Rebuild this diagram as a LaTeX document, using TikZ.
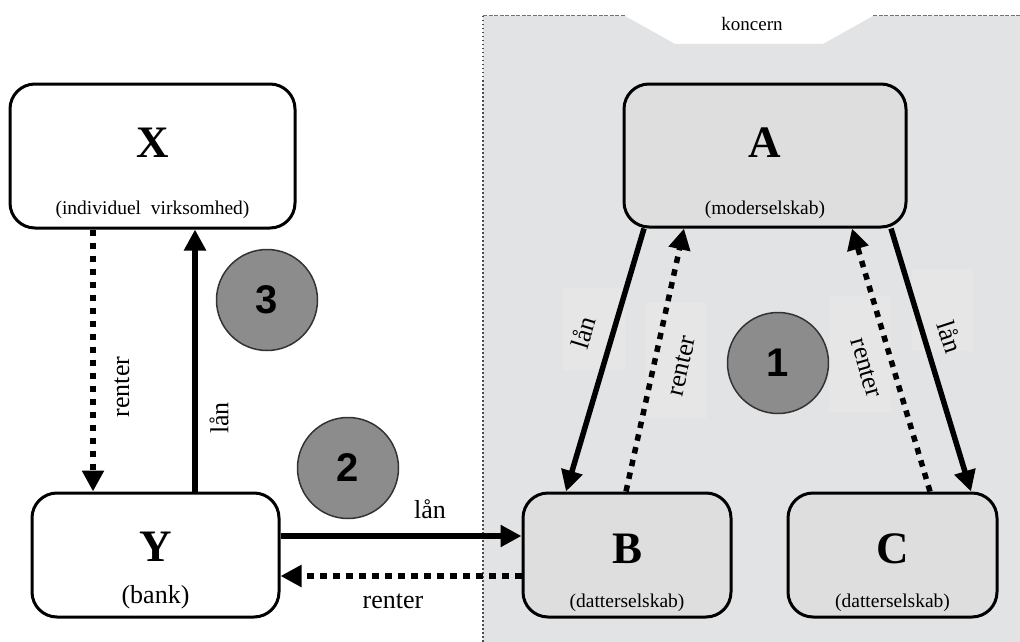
\documentclass[tikz,border=0pt]{standalone}
\usepackage{fontspec}
\setmainfont{Liberation Serif}
\newfontfamily\numfont{Liberation Sans}
\usetikzlibrary{arrows.meta,calc}
\definecolor{regiongray}{HTML}{E2E3E5}
\definecolor{boxgray}{HTML}{DEDEDE}
\definecolor{patchgray}{HTML}{E6E6E6}
\definecolor{circgray}{HTML}{8C8C8C}
\tikzset{
  box/.style={draw=black, line width=3pt, rounded corners=25pt, inner sep=0pt},
  whitebox/.style={box, fill=white},
  graybox/.style={box, fill=boxgray},
  bigletter/.style={font=\fontsize{45}{45}\selectfont\bfseries, inner sep=0pt},
  subtext/.style={font=\fontsize{19.5}{19.5}\selectfont, inner sep=0pt},
  lbl/.style={font=\fontsize{26}{26}\selectfont, inner sep=0pt},
  lanarrow/.style={line width=5.5pt, -{Triangle[length=21pt,width=21pt]}},
  renterarrow/.style={line width=5.5pt, dash pattern=on 6.5pt off 6.5pt, -{Triangle[length=21pt,width=21pt]}},
  numcircle/.style={circle, draw=black!80, line width=1.5pt, fill=circgray, minimum size=101pt, inner sep=0pt, font=\numfont\fontsize{40}{40}\selectfont\bfseries},
  patch/.style={fill=patchgray, draw=none}
}
\begin{document}
\begin{tikzpicture}[x=1pt,y=-1pt]
\useasboundingbox (0,0) rectangle (1020,642);
\fill[white] (0,0) rectangle (1020,642);
% concern region
\fill[regiongray] (483,642) -- (483,16) -- (625,16) -- (675,44) -- (823,44) -- (873,16) -- (1020,16) -- (1020,642) -- cycle;
\draw[black!70, line width=1.5pt, dash pattern=on 1.5pt off 2.5pt] (483,16) -- (483,642);
\draw[black!55, line width=1pt, dash pattern=on 4pt off 1.5pt] (483,16) -- (625,16);
\draw[black!55, line width=1pt, dash pattern=on 4pt off 1.5pt] (873,16) -- (1020,16);
\node[subtext, font=\fontsize{19}{19}\selectfont] (koncern) at (752,24) {koncern};
% faint label patches
\fill[patch] (563,288) rectangle (625,370);
\fill[patch] (646,303) rectangle (707,418);
\fill[patch] (829,296) rectangle (891,412);
\fill[patch] (912,269) rectangle (973,351);
% boxes
\node[whitebox, minimum width=285pt, minimum height=144pt] (X) at (152.5,156) {};
\node[bigletter] at (152.5,143) {X};
\node[subtext] at (152.5,210) {(individuel\ \ virksomhed)};
\node[graybox, minimum width=282pt, minimum height=143pt] (A) at (765,155.5) {};
\node[bigletter] at (765,143) {A};
\node[subtext] at (765,210) {(moderselskab)};
\node[whitebox, minimum width=247pt, minimum height=124pt] (Y) at (155.5,555) {};
\node[bigletter] at (155.5,547) {Y};
\node[subtext, font=\fontsize{26}{26}\selectfont] at (155.5,597) {(bank)};
\node[graybox, minimum width=208pt, minimum height=124pt] (B) at (627,555) {};
\node[bigletter] at (627,549) {B};
\node[subtext] at (627,603) {(datterselskab)};
\node[graybox, minimum width=209pt, minimum height=124pt] (C) at (892.5,555) {};
\node[bigletter] at (892.5,549) {C};
\node[subtext] at (892.5,603) {(datterselskab)};
% circles
\node[numcircle] (n3) at (267,300) {3};
\node[numcircle] (n2) at (348,468) {2};
\node[numcircle] (n1) at (778,363) {1};
% X - Y
\draw[renterarrow] (X.south -| 93,0) -- (Y.north -| 93,0);
\draw[lanarrow] (Y.north -| 195,0) -- (X.south -| 195,0);
\node[lbl, rotate=90] at (122,387) {renter};
\node[lbl, rotate=90] at (219,418) {lån};
% Y - B
\draw[lanarrow] (Y.east |- 0,536) -- (B.west |- 0,536);
\draw[renterarrow] (B.west |- 0,576) -- (Y.east |- 0,576);
\node[lbl] at (430,509) {lån};
\node[lbl] at (393,601) {renter};
% A - B
\draw[lanarrow] (A.south -| 644,0) -- (B.north -| 566,0);
\draw[renterarrow] (B.north -| 626,0) -- (A.south -| 684,0);
\node[lbl, rotate=73] at (583,333) {lån};
\node[lbl, rotate=77] at (682,366) {renter};
% A - C
\draw[lanarrow] (A.south -| 891,0) -- (C.north -| 971,0);
\draw[renterarrow] (C.north -| 930,0) -- (A.south -| 852,0);
\node[lbl, rotate=-72] at (950,337) {lån};
\node[lbl, rotate=-74] at (866,368) {renter};
\end{tikzpicture}
\end{document}
